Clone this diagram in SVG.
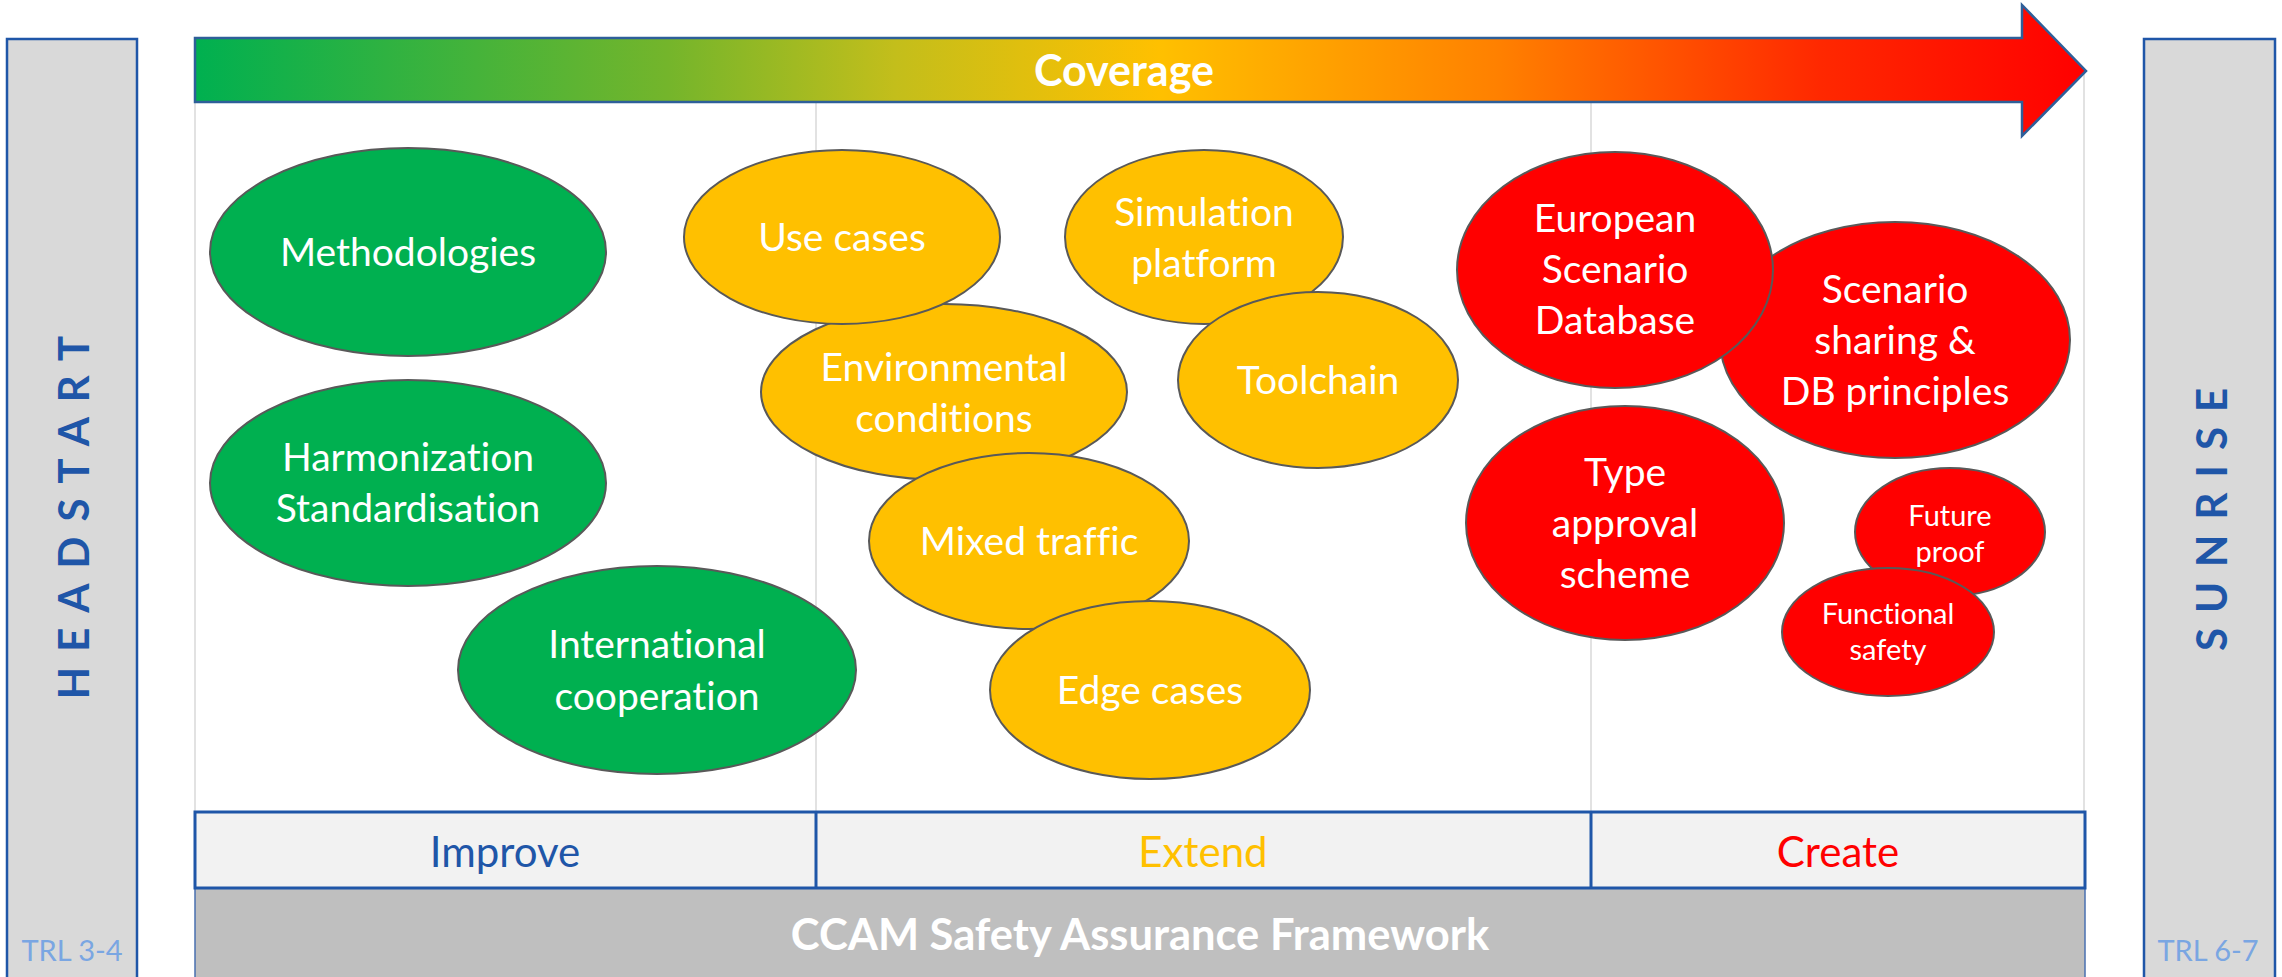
<svg xmlns="http://www.w3.org/2000/svg" width="2282" height="977" viewBox="0 0 2282 977">
<defs>
<linearGradient id="cov" x1="195" y1="0" x2="2086" y2="0" gradientUnits="userSpaceOnUse">
<stop offset="0" stop-color="#00B050"/>
<stop offset="0.25" stop-color="#74B52B"/>
<stop offset="0.37" stop-color="#C3BE1B"/>
<stop offset="0.51" stop-color="#FFC000"/>
<stop offset="0.69" stop-color="#FF8000"/>
<stop offset="0.86" stop-color="#FF2800"/>
<stop offset="1" stop-color="#FF0000"/>
</linearGradient>
<style>
text{font-variant-ligatures:none;font-feature-settings:"liga" 0,"clig" 0,"dlig" 0}
.side{fill:#D9D9D9;stroke:#1F56A8;stroke-width:2.5}
.grid{stroke:#D9D9D9;stroke-width:1.5;fill:none}
.g{fill:#00B050;stroke:#595959;stroke-width:2}
.y{fill:#FFC000;stroke:#595959;stroke-width:2}
.r{fill:#FF0000;stroke:#595959;stroke-width:2}
.lbl{font-family:Lato,"Liberation Sans",sans-serif;font-size:39px;fill:#FFFFFF;text-anchor:middle}
.sm{font-size:29px}
.band{font-family:Lato,"Liberation Sans",sans-serif;font-size:42px;text-anchor:middle}
.vert{font-family:Lato,"Liberation Sans",sans-serif;font-weight:bold;font-size:42px;fill:#1F56A8;text-anchor:middle;letter-spacing:15px}
.trl{font-family:Lato,"Liberation Sans",sans-serif;font-size:29px;fill:#7AA6E2;text-anchor:middle}
</style>
</defs>
<rect width="2282" height="977" fill="#FFFFFF"/>

<g id="headstart">
<rect class="side" x="7" y="39" width="130" height="945"/>
<text class="vert" transform="translate(89,517) rotate(-90)" dx="7">HEADSTART</text>
<text class="trl" x="72" y="961">TRL 3-4</text>
</g>
<g id="sunrise">
<rect class="side" x="2144" y="39" width="131" height="945"/>
<text class="vert" transform="translate(2227,519) rotate(-90)" dx="7">SUNRISE</text>
<text class="trl" x="2208" y="961">TRL 6-7</text>
</g>

<g id="grid">
<line class="grid" x1="195" y1="100" x2="195" y2="812"/>
<line class="grid" x1="816" y1="100" x2="816" y2="812"/>
<line class="grid" x1="1591" y1="100" x2="1591" y2="812"/>
<line class="grid" x1="2084" y1="70" x2="2084" y2="812"/>
</g>

<g id="coverage">
<polygon points="195,38 2022,38 2022,5 2086,71 2022,136 2022,102 195,102" fill="url(#cov)" stroke="#2E5F99" stroke-width="2.5"/>
<text x="1124" y="86" font-family="Lato,'Liberation Sans',sans-serif" font-weight="bold" font-size="43" fill="#FFFFFF" text-anchor="middle">Coverage</text>
</g>

<g id="yellow-nodes">
<g id="environmental"><ellipse class="y" cx="944" cy="392" rx="183" ry="88"/><text class="lbl" x="944" y="381">Environmental</text><text class="lbl" x="944" y="432">conditions</text></g>
<g id="use-cases"><ellipse class="y" cx="842" cy="237" rx="158" ry="87"/><text class="lbl" x="842" y="251">Use cases</text></g>
<g id="simulation"><ellipse class="y" cx="1204" cy="237" rx="139" ry="87"/><text class="lbl" x="1204" y="226">Simulation</text><text class="lbl" x="1204" y="277">platform</text></g>
<g id="toolchain"><ellipse class="y" cx="1318" cy="380" rx="140" ry="88"/><text class="lbl" x="1318" y="394">Toolchain</text></g>
<g id="mixed-traffic"><ellipse class="y" cx="1029" cy="541" rx="160" ry="88"/><text class="lbl" x="1029" y="555">Mixed traffic</text></g>
<g id="edge-cases"><ellipse class="y" cx="1150" cy="690" rx="160" ry="89"/><text class="lbl" x="1150" y="704">Edge cases</text></g>
</g>

<g id="green-nodes">
<g id="methodologies"><ellipse class="g" cx="408" cy="252" rx="198" ry="104"/><text class="lbl" x="408" y="266">Methodologies</text></g>
<g id="harmonization"><ellipse class="g" cx="408" cy="483" rx="198" ry="103"/><text class="lbl" x="408" y="471">Harmonization</text><text class="lbl" x="408" y="522">Standardisation</text></g>
<g id="international"><ellipse class="g" cx="657" cy="670" rx="199" ry="104"/><text class="lbl" x="657" y="658">International</text><text class="lbl" x="657" y="710">cooperation</text></g>
</g>

<g id="red-nodes">
<g id="scenario-sharing"><ellipse class="r" cx="1895" cy="340" rx="175" ry="118"/><text class="lbl" x="1895" y="303">Scenario</text><text class="lbl" x="1895" y="354">sharing &amp;</text><text class="lbl" x="1895" y="405">DB principles</text></g>
<g id="european-db"><ellipse class="r" cx="1615" cy="270" rx="158" ry="118"/><text class="lbl" x="1615" y="232">European</text><text class="lbl" x="1615" y="283">Scenario</text><text class="lbl" x="1615" y="334">Database</text></g>
<g id="type-approval"><ellipse class="r" cx="1625" cy="523" rx="159" ry="117"/><text class="lbl" x="1625" y="486">Type</text><text class="lbl" x="1625" y="537">approval</text><text class="lbl" x="1625" y="588">scheme</text></g>
<g id="future-proof"><ellipse class="r" cx="1950" cy="532" rx="95" ry="64"/><text class="lbl sm" x="1950" y="526">Future</text><text class="lbl sm" x="1950" y="562">proof</text></g>
<g id="functional-safety"><ellipse class="r" cx="1888" cy="632" rx="106" ry="64"/><text class="lbl sm" x="1888" y="624">Functional</text><text class="lbl sm" x="1888" y="660">safety</text></g>
</g>

<g id="framework">
<rect x="195" y="888" width="1890" height="95" fill="#BFBFBF" stroke="#4A70B0" stroke-width="1.5"/>
<text x="1140" y="950" font-family="Lato,'Liberation Sans',sans-serif" font-weight="bold" font-size="43.5" fill="#FFFFFF" text-anchor="middle">CCAM Safety Assurance Framework</text>
</g>

<g id="phases">
<rect x="195" y="812" width="1890" height="76" fill="#F2F2F2" stroke="#1F56A8" stroke-width="3"/>
<line x1="816" y1="812" x2="816" y2="888" stroke="#1F56A8" stroke-width="3"/>
<line x1="1591" y1="812" x2="1591" y2="888" stroke="#1F56A8" stroke-width="3"/>
<text class="band" x="505" y="867" fill="#1F56A8">Improve</text>
<text class="band" x="1203" y="867" fill="#FFC000">Extend</text>
<text class="band" x="1838" y="867" fill="#FF0000">Create</text>
</g>

<g id="connectors"/>
</svg>
